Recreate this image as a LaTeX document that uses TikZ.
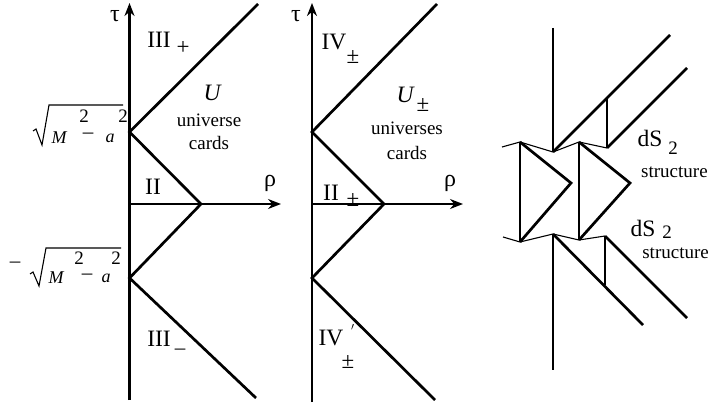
\documentclass[tikz,border=0pt]{standalone}
\usepackage{fontspec}
\setmainfont{Liberation Serif}
\usetikzlibrary{arrows.meta}
\begin{document}
\begin{tikzpicture}[x=1pt,y=-1pt,
  heavy/.style={line width=2.7pt},
  axisline/.style={line width=1.6pt},
  lightline/.style={line width=1.1pt},
  arr/.style={-{Stealth[length=13pt,width=10pt]}},
  big/.style={inner sep=0pt,font=\fontsize{23.5}{26}\selectfont},
  mid/.style={inner sep=0pt,font=\fontsize{24}{26}\selectfont},
  sml/.style={inner sep=0pt,font=\fontsize{19}{22}\selectfont},
  sub/.style={inner sep=0pt,font=\fontsize{23}{25}\selectfont},
  primesign/.style={inner sep=0pt,font=\fontsize{16}{18}\selectfont},
  dashsign/.style={inner sep=0pt,font=\fontsize{21}{23}\selectfont},
  mth/.style={inner sep=0pt,font=\fontsize{18}{21}\selectfont},
  two/.style={inner sep=0pt,font=\fontsize{19}{22}\selectfont}]
\useasboundingbox (0,0) rectangle (710,406);

% ---------- left diagram ----------
\coordinate (Lt) at (129.5,3);
\coordinate (Lb) at (129.5,400);
\coordinate (Lu) at (129.5,132);
\coordinate (Ll) at (129.5,278);
\coordinate (Lo) at (129.5,204);
\coordinate (Lr) at (201,204);
\coordinate (Lx) at (281,204);
\coordinate (LuE) at (258,4);
\coordinate (LlE) at (256,398);
\draw[heavy,arr] (Lb) -- (Lt);
\draw[axisline,arr] (Lo) -- (Lx);
\draw[heavy] (LuE) -- (Lu) -- (Lr) -- (Ll) -- (LlE);
\node[mid] (tauL) at (115,16) {τ};
\node[mid] (rhoL) at (270,183) {ρ};
\node[big] (IIIp) at (159,40) {III};
\node[sub] (IIIps) at (183,48) {+};
\node[big] (UL) at (212,93) {\itshape U};
\node[sml] (univL) at (209,120) {universe};
\node[sml] (cardsL) at (209,143) {cards};
\node[big] (IIL) at (153,187) {II};
\node[big] (IIIm) at (159,339) {III};
\node[dashsign] (IIIms) at (180,352) {–};
% sqrt label, upper
\draw[lightline,line join=miter] (33,131) -- (36,129) -- (42,145) -- (49,105) -- (123,105);
\node[mth] (sM1) at (59,138) {\itshape M};
\node[two] (s21) at (84,116) {2};
\node[dashsign] (sm1) at (88,136) {–};
\node[mth] (sa1) at (110,138) {\itshape a};
\node[two] (s22) at (123,116) {2};
% sqrt label, lower
\node[dashsign] (neg) at (15,265) {–};
\draw[lightline,line join=miter] (30,274) -- (33,272) -- (39,286) -- (46,248) -- (121,248);
\node[mth] (sM2) at (56,278) {\itshape M};
\node[two] (s23) at (79,258) {2};
\node[dashsign] (sm2) at (87,277) {–};
\node[mth] (sa2) at (106,278) {\itshape a};
\node[two] (s24) at (116,258) {2};

% ---------- middle diagram ----------
\coordinate (Mt) at (312,3);
\coordinate (Mb) at (312,402);
\coordinate (Mu) at (312,132);
\coordinate (Ml) at (312,278);
\coordinate (Mo) at (312,204);
\coordinate (Mr) at (384,204);
\coordinate (Mx) at (463,204);
\coordinate (MuE) at (437,4);
\coordinate (MlE) at (435,400);
\draw[heavy,arr] (Mb) -- (Mt);
\draw[axisline,arr] (Mo) -- (Mx);
\draw[heavy] (MuE) -- (Mu) -- (Mr) -- (Ml) -- (MlE);
\node[mid] (tauM) at (296,16) {τ};
\node[mid] (rhoM) at (450,183) {ρ};
\node[big] (IVp) at (334,42) {IV};
\node[sub] (IVps) at (353,57) {±};
\node[big] (UM) at (405,95) {\itshape U};
\node[sub] (UMs) at (423,105) {±};
\node[sml] (univM) at (407,128) {universes};
\node[sml] (cardsM) at (407,153) {cards};
\node[big] (IIM) at (331,193) {II};
\node[sub] (IIMs) at (353,200) {±};
\node[big] (IVm) at (331,338) {IV};
\node[primesign] (IVmp) at (353,331) {$'$};
\node[sub] (IVms) at (348,362) {±};

% ---------- right diagram ----------
\coordinate (Ct1) at (553,28);
\coordinate (Cb1) at (553,152);
\coordinate (Ct2) at (553,234);
\coordinate (Cb2) at (553,370);
\coordinate (A1) at (520,142);
\coordinate (A2) at (520,242);
\coordinate (Ap) at (571,183);
\coordinate (B1) at (579,142);
\coordinate (B2) at (579,240);
\coordinate (Bp) at (630,183);
\coordinate (Zl1) at (502,147);
\coordinate (Zr1) at (607,148);
\coordinate (Zl2) at (503,237);
\coordinate (Zr2) at (605,236);
\coordinate (V1) at (607,98);
\coordinate (V2) at (605,285);
\coordinate (D1) at (670,35);
\coordinate (D2) at (687,68);
\coordinate (D3) at (643,325);
\coordinate (D4) at (687,318);
\draw[heavy] (Ct1) -- (Cb1);
\draw[heavy] (Ct2) -- (Cb2);
\draw[heavy] (A1) -- (A2);
\draw[heavy,line join=miter] (A1) -- (Ap) -- (A2);
\draw[heavy] (B1) -- (B2);
\draw[heavy,line join=miter] (B1) -- (Bp) -- (B2);
\draw[lightline] (Zl1) -- (A1) -- (Cb1) -- (B1) -- (Zr1);
\draw[lightline] (Zl2) -- (A2) -- (Ct2) -- (B2) -- (Zr2);
\draw[heavy] (V1) -- (Zr1);
\draw[heavy] (Zr2) -- (V2);
\draw[heavy] (Cb1) -- (D1);
\draw[heavy] (Zr1) -- (D2);
\draw[heavy] (Ct2) -- (D3);
\draw[heavy] (Zr2) -- (D4);
\node[big] (dS1) at (650,138) {dS};
\node[two] (dS1s) at (673,148) {2};
\node[sml,anchor=west] (st1) at (641,172) {structure};
\node[big] (dS2) at (643,228) {dS};
\node[two] (dS2s) at (667,232) {2};
\node[sml,anchor=east] (st2) at (709,253) {structure};
\end{tikzpicture}
\end{document}
